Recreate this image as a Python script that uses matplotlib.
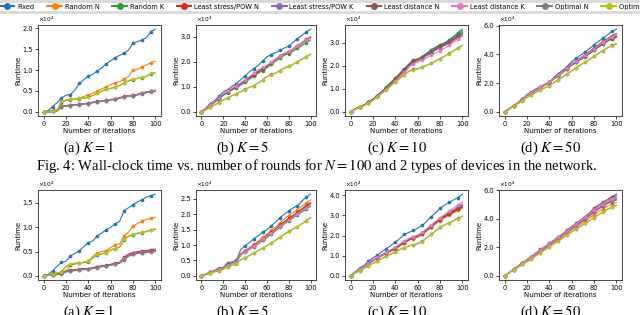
import matplotlib
matplotlib.use("Agg")
import matplotlib.pyplot as plt
from matplotlib.lines import Line2D
from matplotlib.ticker import FormatStrFormatter

W, H = 640, 315
ITERATIONS = list(range(0, 101, 4))
METHODS = ["Fixed", "Random N", "Random K", "Least stress/POW N", "Least stress/POW K",
           "Least distance N", "Least distance K", "Optimal N", "Optimal K"]
COLORS = ["#1f77b4", "#ff7f0e", "#2ca02c", "#d62728", "#9467bd",
          "#8c564b", "#e377c2", "#7f7f7f", "#bcbd22"]

# runtime in units of 1e4, one row per method (same order as METHODS)
TOP_K1 = [
    [0, 0.03, 0.12, 0.22, 0.33, 0.40, 0.41, 0.52, 0.68, 0.77, 0.85, 0.90, 0.98, 1.05, 1.15, 1.22, 1.30, 1.35, 1.40, 1.48, 1.65, 1.68, 1.72, 1.78, 1.92, 1.98],
    [0, 0.02, 0.03, 0.05, 0.22, 0.28, 0.30, 0.31, 0.33, 0.37, 0.40, 0.45, 0.50, 0.55, 0.60, 0.65, 0.70, 0.72, 0.78, 0.85, 1.00, 1.02, 1.08, 1.12, 1.18, 1.21],
    [0, 0.01, 0.02, 0.03, 0.24, 0.28, 0.29, 0.30, 0.31, 0.33, 0.35, 0.39, 0.45, 0.49, 0.54, 0.56, 0.59, 0.63, 0.69, 0.74, 0.77, 0.80, 0.82, 0.85, 0.91, 0.94],
    [0, 0.00, 0.01, 0.02, 0.13, 0.15, 0.16, 0.17, 0.18, 0.20, 0.21, 0.23, 0.25, 0.26, 0.28, 0.30, 0.31, 0.34, 0.37, 0.39, 0.40, 0.42, 0.45, 0.48, 0.50, 0.52],
    [0, 0.00, 0.01, 0.02, 0.13, 0.15, 0.16, 0.17, 0.18, 0.19, 0.21, 0.23, 0.24, 0.26, 0.28, 0.29, 0.31, 0.33, 0.36, 0.39, 0.40, 0.42, 0.45, 0.47, 0.50, 0.51],
    [0, 0.00, 0.01, 0.02, 0.12, 0.14, 0.15, 0.16, 0.18, 0.19, 0.20, 0.22, 0.24, 0.25, 0.27, 0.29, 0.30, 0.33, 0.36, 0.38, 0.39, 0.41, 0.44, 0.47, 0.49, 0.50],
    [0, 0.00, 0.01, 0.02, 0.12, 0.14, 0.15, 0.16, 0.17, 0.19, 0.20, 0.22, 0.24, 0.25, 0.27, 0.29, 0.30, 0.33, 0.35, 0.38, 0.39, 0.41, 0.44, 0.46, 0.49, 0.50],
    [0, 0.00, 0.01, 0.02, 0.12, 0.14, 0.15, 0.16, 0.17, 0.19, 0.20, 0.22, 0.24, 0.25, 0.27, 0.28, 0.30, 0.32, 0.35, 0.37, 0.38, 0.40, 0.43, 0.46, 0.48, 0.49],
    [0, 0.00, 0.01, 0.02, 0.25, 0.28, 0.30, 0.30, 0.32, 0.33, 0.35, 0.40, 0.45, 0.50, 0.55, 0.56, 0.60, 0.63, 0.70, 0.75, 0.78, 0.80, 0.83, 0.85, 0.92, 0.94],
]
TOP_K5 = [
    [0, 0.15, 0.33, 0.45, 0.62, 0.80, 0.88, 1.02, 1.12, 1.28, 1.42, 1.60, 1.72, 1.85, 2.02, 2.20, 2.28, 2.36, 2.45, 2.55, 2.62, 2.78, 2.92, 3.05, 3.18, 3.30],
    [0, 0.12, 0.28, 0.40, 0.55, 0.70, 0.80, 0.92, 1.02, 1.12, 1.24, 1.36, 1.48, 1.60, 1.70, 1.80, 1.95, 2.08, 2.22, 2.32, 2.38, 2.48, 2.60, 2.72, 2.85, 2.95],
    [0, 0.11, 0.26, 0.38, 0.52, 0.66, 0.76, 0.87, 0.97, 1.07, 1.18, 1.30, 1.42, 1.54, 1.64, 1.75, 1.89, 2.02, 2.15, 2.25, 2.32, 2.42, 2.53, 2.65, 2.76, 2.86],
    [0, 0.12, 0.28, 0.40, 0.55, 0.70, 0.80, 0.92, 1.02, 1.13, 1.25, 1.37, 1.49, 1.61, 1.72, 1.82, 1.96, 2.10, 2.23, 2.33, 2.40, 2.50, 2.62, 2.74, 2.87, 2.97],
    [0, 0.12, 0.27, 0.39, 0.54, 0.69, 0.79, 0.91, 1.01, 1.12, 1.24, 1.36, 1.48, 1.60, 1.71, 1.81, 1.95, 2.08, 2.22, 2.32, 2.39, 2.49, 2.61, 2.74, 2.86, 2.96],
    [0, 0.12, 0.27, 0.39, 0.54, 0.69, 0.79, 0.90, 1.00, 1.11, 1.23, 1.35, 1.47, 1.60, 1.71, 1.82, 1.96, 2.09, 2.22, 2.32, 2.40, 2.51, 2.63, 2.76, 2.89, 3.00],
    [0, 0.13, 0.29, 0.41, 0.56, 0.72, 0.82, 0.94, 1.05, 1.16, 1.28, 1.41, 1.54, 1.67, 1.77, 1.86, 1.98, 2.10, 2.24, 2.34, 2.41, 2.51, 2.63, 2.75, 2.88, 2.98],
    [0, 0.08, 0.18, 0.28, 0.38, 0.48, 0.55, 0.65, 0.72, 0.80, 0.90, 0.98, 1.05, 1.15, 1.28, 1.40, 1.50, 1.55, 1.65, 1.75, 1.82, 1.90, 2.00, 2.10, 2.20, 2.30],
    [0, 0.08, 0.18, 0.27, 0.37, 0.47, 0.55, 0.64, 0.72, 0.80, 0.89, 0.97, 1.05, 1.15, 1.27, 1.39, 1.49, 1.55, 1.64, 1.74, 1.81, 1.90, 2.00, 2.09, 2.19, 2.29],
]
TOP_K10 = [
    [0, 0.12, 0.22, 0.30, 0.42, 0.55, 0.70, 0.88, 1.05, 1.25, 1.45, 1.65, 1.85, 2.05, 2.25, 2.29, 2.40, 2.55, 2.70, 2.82, 2.92, 3.00, 3.12, 3.28, 3.45, 3.60],
    [0, 0.12, 0.21, 0.29, 0.41, 0.53, 0.68, 0.85, 1.02, 1.20, 1.38, 1.57, 1.77, 1.97, 2.15, 2.22, 2.32, 2.44, 2.56, 2.68, 2.80, 2.88, 2.98, 3.10, 3.20, 3.30],
    [0, 0.12, 0.22, 0.30, 0.42, 0.55, 0.71, 0.90, 1.08, 1.28, 1.48, 1.68, 1.88, 2.08, 2.26, 2.30, 2.40, 2.52, 2.65, 2.78, 2.90, 2.98, 3.08, 3.22, 3.38, 3.52],
    [0, 0.12, 0.21, 0.30, 0.41, 0.54, 0.69, 0.87, 1.05, 1.23, 1.42, 1.62, 1.82, 2.02, 2.20, 2.26, 2.36, 2.48, 2.60, 2.72, 2.84, 2.92, 3.02, 3.15, 3.28, 3.40],
    [0, 0.12, 0.21, 0.29, 0.40, 0.53, 0.68, 0.86, 1.03, 1.21, 1.40, 1.60, 1.80, 2.00, 2.18, 2.24, 2.33, 2.45, 2.57, 2.68, 2.80, 2.89, 2.99, 3.12, 3.24, 3.35],
    [0, 0.12, 0.22, 0.30, 0.41, 0.54, 0.70, 0.88, 1.06, 1.25, 1.44, 1.64, 1.84, 2.04, 2.22, 2.27, 2.38, 2.50, 2.62, 2.74, 2.86, 2.94, 3.05, 3.18, 3.32, 3.45],
    [0, 0.11, 0.20, 0.28, 0.39, 0.51, 0.65, 0.82, 0.99, 1.16, 1.33, 1.52, 1.72, 1.92, 2.10, 2.16, 2.25, 2.35, 2.46, 2.56, 2.66, 2.76, 2.90, 3.04, 3.18, 3.30],
    [0, 0.11, 0.20, 0.28, 0.39, 0.51, 0.66, 0.82, 0.98, 1.14, 1.30, 1.46, 1.62, 1.76, 1.85, 1.88, 1.95, 2.03, 2.12, 2.22, 2.32, 2.42, 2.54, 2.66, 2.78, 2.90],
    [0, 0.11, 0.20, 0.28, 0.38, 0.50, 0.65, 0.81, 0.97, 1.13, 1.29, 1.45, 1.61, 1.75, 1.84, 1.87, 1.94, 2.02, 2.11, 2.21, 2.31, 2.41, 2.53, 2.65, 2.77, 2.89],
]
TOP_K50 = [
    [0, 0.22, 0.42, 0.65, 0.88, 1.20, 1.38, 1.60, 1.75, 1.92, 2.08, 2.40, 2.65, 2.90, 3.15, 3.50, 3.72, 3.95, 4.15, 4.40, 4.65, 4.90, 5.10, 5.35, 5.60, 5.75],
    [0, 0.20, 0.40, 0.62, 0.85, 1.12, 1.30, 1.50, 1.68, 1.85, 2.02, 2.30, 2.52, 2.75, 2.98, 3.25, 3.45, 3.65, 3.85, 4.05, 4.30, 4.50, 4.70, 4.90, 5.05, 5.15],
    [0, 0.20, 0.40, 0.62, 0.85, 1.12, 1.30, 1.50, 1.68, 1.85, 2.02, 2.30, 2.52, 2.75, 2.98, 3.24, 3.44, 3.64, 3.84, 4.05, 4.28, 4.50, 4.72, 4.92, 5.08, 5.20],
    [0, 0.20, 0.40, 0.63, 0.86, 1.13, 1.31, 1.51, 1.69, 1.86, 2.04, 2.32, 2.54, 2.78, 3.01, 3.28, 3.48, 3.69, 3.89, 4.10, 4.34, 4.55, 4.77, 4.97, 5.13, 5.25],
    [0, 0.20, 0.40, 0.63, 0.86, 1.13, 1.31, 1.52, 1.70, 1.87, 2.05, 2.33, 2.56, 2.79, 3.03, 3.30, 3.50, 3.71, 3.91, 4.12, 4.36, 4.58, 4.80, 5.00, 5.17, 5.30],
    [0, 0.21, 0.41, 0.64, 0.87, 1.15, 1.33, 1.54, 1.72, 1.89, 2.07, 2.36, 2.59, 2.83, 3.07, 3.35, 3.56, 3.77, 3.98, 4.20, 4.45, 4.68, 4.90, 5.10, 5.30, 5.45],
    [0, 0.21, 0.41, 0.63, 0.86, 1.14, 1.32, 1.53, 1.71, 1.88, 2.06, 2.34, 2.57, 2.81, 3.05, 3.32, 3.53, 3.74, 3.95, 4.16, 4.40, 4.62, 4.84, 5.04, 5.22, 5.35],
    [0, 0.19, 0.38, 0.58, 0.78, 1.02, 1.18, 1.36, 1.53, 1.67, 1.81, 2.03, 2.23, 2.43, 2.63, 2.86, 3.06, 3.26, 3.46, 3.66, 3.86, 4.06, 4.26, 4.46, 4.62, 4.75],
    [0, 0.19, 0.38, 0.58, 0.78, 1.02, 1.18, 1.35, 1.52, 1.66, 1.80, 2.02, 2.22, 2.42, 2.62, 2.85, 3.05, 3.25, 3.45, 3.65, 3.85, 4.05, 4.25, 4.45, 4.60, 4.72],
]
BOT_K1 = [
    [0, 0.03, 0.10, 0.20, 0.28, 0.30, 0.41, 0.46, 0.52, 0.60, 0.68, 0.72, 0.82, 0.88, 0.95, 1.00, 1.07, 1.12, 1.34, 1.40, 1.46, 1.52, 1.56, 1.62, 1.65, 1.68],
    [0, 0.01, 0.03, 0.06, 0.08, 0.10, 0.22, 0.25, 0.26, 0.28, 0.30, 0.40, 0.48, 0.50, 0.52, 0.58, 0.64, 0.66, 0.82, 0.90, 1.02, 1.08, 1.12, 1.16, 1.18, 1.20],
    [0, 0.01, 0.04, 0.06, 0.08, 0.19, 0.23, 0.25, 0.26, 0.28, 0.29, 0.37, 0.43, 0.45, 0.48, 0.53, 0.56, 0.59, 0.74, 0.81, 0.85, 0.87, 0.89, 0.91, 0.94, 0.96],
    [0, 0.01, 0.02, 0.03, 0.05, 0.10, 0.12, 0.13, 0.14, 0.15, 0.15, 0.17, 0.19, 0.21, 0.22, 0.24, 0.26, 0.28, 0.38, 0.45, 0.48, 0.50, 0.51, 0.52, 0.54, 0.55],
    [0, 0.01, 0.02, 0.03, 0.05, 0.09, 0.11, 0.12, 0.13, 0.14, 0.15, 0.16, 0.18, 0.20, 0.21, 0.23, 0.25, 0.27, 0.36, 0.43, 0.46, 0.48, 0.49, 0.50, 0.52, 0.53],
    [0, 0.01, 0.02, 0.03, 0.04, 0.09, 0.11, 0.12, 0.13, 0.14, 0.14, 0.16, 0.18, 0.20, 0.21, 0.23, 0.25, 0.27, 0.35, 0.42, 0.45, 0.47, 0.48, 0.49, 0.51, 0.52],
    [0, 0.01, 0.02, 0.03, 0.04, 0.08, 0.10, 0.11, 0.12, 0.13, 0.14, 0.15, 0.17, 0.19, 0.20, 0.22, 0.24, 0.26, 0.34, 0.41, 0.44, 0.46, 0.47, 0.48, 0.50, 0.51],
    [0, 0.01, 0.02, 0.03, 0.04, 0.08, 0.10, 0.11, 0.12, 0.13, 0.14, 0.15, 0.17, 0.19, 0.20, 0.22, 0.24, 0.26, 0.33, 0.40, 0.44, 0.46, 0.47, 0.48, 0.49, 0.50],
    [0, 0.01, 0.04, 0.06, 0.08, 0.20, 0.24, 0.26, 0.27, 0.28, 0.30, 0.38, 0.44, 0.46, 0.48, 0.54, 0.56, 0.60, 0.75, 0.82, 0.86, 0.88, 0.90, 0.92, 0.95, 0.97],
]
BOT_K5 = [
    [0, 0.05, 0.13, 0.18, 0.25, 0.28, 0.42, 0.46, 0.50, 0.85, 0.98, 1.08, 1.20, 1.30, 1.42, 1.50, 1.62, 1.75, 1.89, 2.00, 2.10, 2.20, 2.28, 2.42, 2.55, 2.65],
    [0, 0.05, 0.12, 0.16, 0.22, 0.27, 0.38, 0.42, 0.46, 0.72, 0.82, 0.92, 1.02, 1.12, 1.25, 1.35, 1.48, 1.58, 1.72, 1.85, 1.96, 2.05, 2.15, 2.25, 2.37, 2.47],
    [0, 0.05, 0.11, 0.15, 0.21, 0.26, 0.36, 0.40, 0.44, 0.68, 0.78, 0.86, 0.95, 1.04, 1.15, 1.24, 1.36, 1.46, 1.58, 1.68, 1.78, 1.88, 1.98, 2.07, 2.16, 2.25],
    [0, 0.05, 0.12, 0.16, 0.22, 0.27, 0.37, 0.41, 0.45, 0.70, 0.80, 0.89, 0.99, 1.08, 1.20, 1.30, 1.42, 1.52, 1.65, 1.76, 1.86, 1.96, 2.06, 2.17, 2.28, 2.38],
    [0, 0.05, 0.11, 0.16, 0.21, 0.26, 0.36, 0.40, 0.44, 0.69, 0.79, 0.88, 0.97, 1.06, 1.18, 1.28, 1.40, 1.50, 1.62, 1.73, 1.83, 1.93, 2.03, 2.13, 2.23, 2.33],
    [0, 0.05, 0.12, 0.16, 0.22, 0.27, 0.37, 0.41, 0.45, 0.70, 0.80, 0.89, 0.98, 1.08, 1.19, 1.29, 1.41, 1.51, 1.64, 1.75, 1.85, 1.95, 2.05, 2.15, 2.26, 2.36],
    [0, 0.05, 0.11, 0.16, 0.21, 0.26, 0.36, 0.40, 0.44, 0.68, 0.79, 0.88, 0.97, 1.07, 1.18, 1.28, 1.39, 1.49, 1.61, 1.71, 1.81, 1.91, 2.01, 2.11, 2.21, 2.30],
    [0, 0.04, 0.09, 0.13, 0.17, 0.22, 0.30, 0.34, 0.38, 0.52, 0.59, 0.66, 0.74, 0.82, 0.90, 0.98, 1.06, 1.15, 1.25, 1.35, 1.44, 1.52, 1.60, 1.69, 1.79, 1.89],
    [0, 0.04, 0.09, 0.13, 0.17, 0.22, 0.30, 0.34, 0.38, 0.52, 0.58, 0.66, 0.74, 0.82, 0.90, 0.98, 1.06, 1.15, 1.25, 1.35, 1.44, 1.52, 1.60, 1.68, 1.78, 1.88],
]
BOT_K10 = [
    [0, 0.20, 0.38, 0.52, 0.72, 0.90, 1.02, 1.20, 1.35, 1.50, 1.67, 1.85, 2.05, 2.15, 2.25, 2.36, 2.50, 2.70, 2.93, 3.12, 3.34, 3.50, 3.64, 3.76, 3.88, 4.05],
    [0, 0.16, 0.30, 0.45, 0.60, 0.75, 0.88, 1.00, 1.12, 1.22, 1.32, 1.48, 1.62, 1.75, 1.85, 1.92, 2.05, 2.22, 2.40, 2.58, 2.74, 2.88, 3.00, 3.12, 3.25, 3.35],
    [0, 0.17, 0.31, 0.46, 0.62, 0.77, 0.90, 1.03, 1.15, 1.26, 1.37, 1.53, 1.67, 1.80, 1.90, 1.97, 2.10, 2.28, 2.46, 2.64, 2.80, 2.94, 3.07, 3.20, 3.33, 3.45],
    [0, 0.17, 0.31, 0.46, 0.61, 0.76, 0.89, 1.02, 1.14, 1.25, 1.35, 1.51, 1.65, 1.78, 1.88, 1.95, 2.08, 2.26, 2.44, 2.62, 2.78, 2.92, 3.04, 3.16, 3.29, 3.40],
    [0, 0.17, 0.31, 0.46, 0.62, 0.77, 0.90, 1.03, 1.16, 1.27, 1.38, 1.54, 1.68, 1.81, 1.91, 1.98, 2.11, 2.29, 2.48, 2.66, 2.83, 2.98, 3.12, 3.26, 3.42, 3.55],
    [0, 0.17, 0.31, 0.46, 0.62, 0.77, 0.90, 1.03, 1.15, 1.27, 1.38, 1.53, 1.67, 1.80, 1.90, 1.97, 2.10, 2.28, 2.47, 2.65, 2.82, 2.96, 3.10, 3.23, 3.38, 3.50],
    [0, 0.17, 0.32, 0.47, 0.63, 0.78, 0.92, 1.05, 1.18, 1.30, 1.42, 1.58, 1.72, 1.85, 1.95, 2.02, 2.15, 2.33, 2.52, 2.70, 2.88, 3.04, 3.20, 3.36, 3.52, 3.65],
    [0, 0.14, 0.26, 0.38, 0.50, 0.62, 0.74, 0.86, 0.98, 1.08, 1.18, 1.30, 1.40, 1.48, 1.54, 1.60, 1.71, 1.89, 2.06, 2.23, 2.41, 2.53, 2.63, 2.73, 2.85, 2.96],
    [0, 0.14, 0.26, 0.38, 0.50, 0.62, 0.74, 0.86, 0.98, 1.08, 1.18, 1.30, 1.40, 1.48, 1.54, 1.59, 1.70, 1.88, 2.05, 2.22, 2.40, 2.52, 2.62, 2.72, 2.84, 2.95],
]
BOT_K50 = [
    [0, 0.22, 0.45, 0.68, 0.90, 1.12, 1.34, 1.58, 1.82, 2.03, 2.25, 2.48, 2.70, 2.93, 3.18, 3.42, 3.64, 3.86, 4.10, 4.36, 4.64, 4.88, 5.08, 5.28, 5.46, 5.60],
    [0, 0.21, 0.42, 0.64, 0.85, 1.06, 1.27, 1.50, 1.72, 1.93, 2.14, 2.35, 2.56, 2.78, 3.00, 3.22, 3.42, 3.62, 3.84, 4.06, 4.28, 4.50, 4.70, 4.88, 5.02, 5.12],
    [0, 0.22, 0.44, 0.66, 0.88, 1.10, 1.32, 1.55, 1.78, 1.99, 2.21, 2.43, 2.64, 2.86, 3.09, 3.32, 3.53, 3.74, 3.96, 4.20, 4.44, 4.67, 4.88, 5.06, 5.20, 5.30],
    [0, 0.22, 0.44, 0.67, 0.89, 1.11, 1.33, 1.56, 1.80, 2.01, 2.23, 2.45, 2.67, 2.89, 3.12, 3.36, 3.57, 3.78, 4.01, 4.25, 4.50, 4.73, 4.94, 5.12, 5.28, 5.40],
    [0, 0.22, 0.44, 0.66, 0.88, 1.10, 1.32, 1.55, 1.79, 2.00, 2.22, 2.44, 2.66, 2.88, 3.11, 3.34, 3.55, 3.76, 3.99, 4.23, 4.48, 4.71, 4.91, 5.09, 5.24, 5.35],
    [0, 0.22, 0.45, 0.68, 0.90, 1.12, 1.35, 1.60, 1.85, 2.05, 2.28, 2.50, 2.72, 2.95, 3.20, 3.45, 3.68, 3.90, 4.15, 4.42, 4.72, 4.95, 5.15, 5.35, 5.55, 5.72],
    [0, 0.22, 0.45, 0.67, 0.89, 1.11, 1.34, 1.58, 1.83, 2.04, 2.26, 2.48, 2.70, 2.93, 3.17, 3.41, 3.63, 3.85, 4.09, 4.35, 4.62, 4.86, 5.06, 5.25, 5.40, 5.50],
    [0, 0.20, 0.40, 0.60, 0.80, 1.00, 1.20, 1.40, 1.62, 1.83, 2.04, 2.24, 2.45, 2.66, 2.87, 3.08, 3.28, 3.48, 3.68, 3.88, 4.08, 4.28, 4.48, 4.66, 4.80, 4.93],
    [0, 0.20, 0.40, 0.60, 0.80, 1.00, 1.19, 1.39, 1.61, 1.82, 2.03, 2.23, 2.44, 2.65, 2.86, 3.07, 3.27, 3.47, 3.67, 3.87, 4.07, 4.27, 4.47, 4.65, 4.79, 4.92],
]

TOP_ROW = [TOP_K1, TOP_K5, TOP_K10, TOP_K50]
BOT_ROW = [BOT_K1, BOT_K5, BOT_K10, BOT_K50]
YTICKS = [[0, 0.5, 1.0, 1.5, 2.0], [0, 1, 2, 3], [0, 1, 2, 3], [0, 2, 4, 6],
          [0, 0.5, 1.0, 1.5], [0, 0.5, 1.0, 1.5, 2.0, 2.5], [0, 1, 2, 3, 4], [0, 2, 4, 6]]
SUBCAPTIONS = [r"(a) $K = 1$", r"(b) $K = 5$", r"(c) $K = 10$", r"(d) $K = 50$"]
FIG_CAPTION = r"Fig. 4: Wall-clock time vs. number of rounds for $N = 100$ and 2 types of devices in the network."

# pixel boxes (left, right) of the four columns, (top, bottom) of the two rows
COL_X = [(38, 161), (196, 316), (345, 468), (499, 622)]
ROW_Y = [(25, 116), (190, 280)]
CAPTION_X = [89, 243, 397, 551]
CAPTION_Y = [148, 312]

plt.rcParams["mathtext.fontset"] = "stix"
SERIF = ["Liberation Serif", "DejaVu Serif"]


def add_px_axes(fig, x0, x1, y0, y1):
    return fig.add_axes([x0 / W, 1 - y1 / H, (x1 - x0) / W, (y1 - y0) / H])


def draw_panel(ax, series, yticks):
    for vals, color in zip(series, COLORS):
        ax.plot(ITERATIONS, vals, color=color, lw=0.8, marker="o", ms=1.6, markevery=2)
    ax.set_xticks([0, 20, 40, 60, 80, 100])
    ax.set_yticks(yticks)
    ax.yaxis.set_major_formatter(FormatStrFormatter("%.1f"))
    ax.tick_params(labelsize=4.8, length=2, width=0.5, pad=1.5)
    for sp in ax.spines.values():
        sp.set_linewidth(0.5)
    ax.set_xlabel("Number of iterations", fontsize=5, labelpad=0.5)
    ax.set_ylabel("Runtime", fontsize=5, labelpad=1)
    ax.text(0, 1.015, r"$\times10^4$", transform=ax.transAxes, fontsize=4.2,
            ha="left", va="bottom", math_fontfamily="dejavusans")


fig = plt.figure(figsize=(W / 100, H / 100), dpi=100)

for r, row in enumerate([TOP_ROW, BOT_ROW]):
    for c, series in enumerate(row):
        ax = add_px_axes(fig, *COL_X[c], *ROW_Y[r])
        draw_panel(ax, series, YTICKS[r * 4 + c])
        fig.text(CAPTION_X[c] / W, 1 - CAPTION_Y[r] / H, SUBCAPTIONS[c], family=SERIF,
                 fontsize=10.5, ha="center", va="center")

fig.text(317 / W, 1 - 166 / H, FIG_CAPTION, family=SERIF, fontsize=10.5, ha="center", va="center")

# legend strip across the top (runs past the right edge in the original)
handles = [Line2D([], [], color=c, lw=1.5, marker="o", ms=4) for c in COLORS]
fig.legend(handles, METHODS, loc="lower left", bbox_to_anchor=(-0.004, 1 - 12 / H),
           ncol=9, fontsize=4.8, handlelength=2.2, handletextpad=0.4, columnspacing=1.95,
           borderaxespad=0, borderpad=0.35, frameon=True, edgecolor="#d0d0d0", fancybox=False)
fig.legends[0].get_frame().set_linewidth(2)

fig.savefig("out.png", dpi=100)
